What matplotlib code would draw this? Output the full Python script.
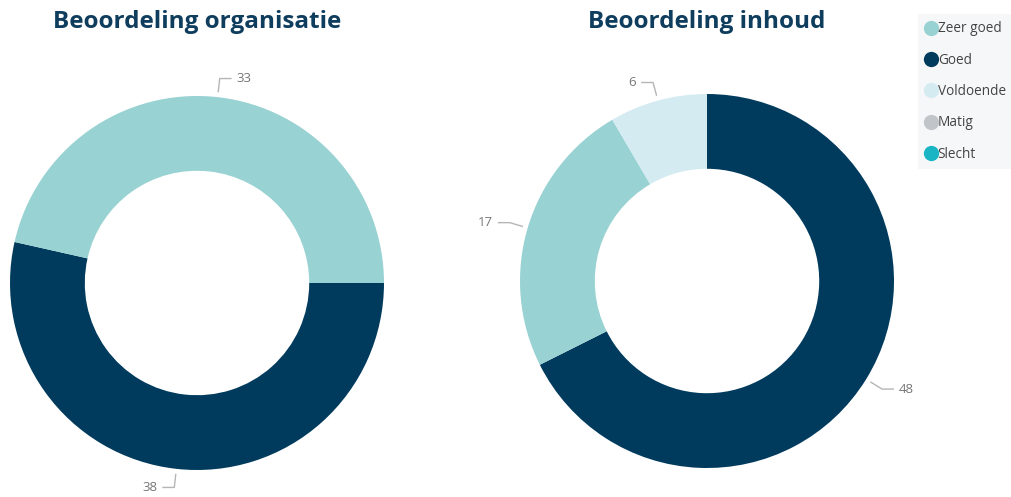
import numpy as np
import matplotlib
matplotlib.use('Agg')
import matplotlib.pyplot as plt
from matplotlib.lines import Line2D

plt.rcParams['font.family'] = ['Open Sans', 'DejaVu Sans']

categories = ['Zeer goed', 'Goed', 'Voldoende', 'Matig', 'Slecht']
colors = ['#99d2d3', '#003b5e', '#d4ebf2', '#c1c4c9', '#1ab5c4']

# left chart: organisation
org_labels = ['Goed', 'Zeer goed']
org_values = [38, 33]
# right chart: content
inh_labels = ['Goed', 'Zeer goed', 'Voldoende']
inh_values = [48, 17, 6]

W, H = 1011, 497
fig = plt.figure(figsize=(W / 100, H / 100), dpi=100)
title_color = '#0f3d5e'
label_color = '#777777'
line_color = '#b5b5b5'
R = 187


def donut(cx, cy, labels, values, start, title):
    ax = fig.add_axes([(cx - R) / W, (H - cy - R) / H, 2 * R / W, 2 * R / H])
    cols = [colors[categories.index(l)] for l in labels]
    wedges, _ = ax.pie(values, colors=cols, startangle=start, counterclock=False,
                       radius=1.0, wedgeprops=dict(width=0.4, edgecolor='none'))
    ax.set_xlim(-1, 1)
    ax.set_ylim(-1, 1)
    ax.set_aspect('equal')
    ax.axis('off')
    for w, v in zip(wedges, values):
        th = np.deg2rad((w.theta1 + w.theta2) / 2)
        c, s = np.cos(th), np.sin(th)
        x0, y0 = 1.03 * c, 1.03 * s
        x1, y1 = 1.1 * c, 1.1 * s
        d = 1 if c >= 0 else -1
        x2 = x1 + d * 0.06
        ax.plot([x0, x1, x2], [y0, y1, y1], color=line_color, lw=1, clip_on=False)
        ax.text(x2 + d * 0.03, y1, str(v), ha='left' if d > 0 else 'right', va='center',
                fontsize=9.5, color=label_color, clip_on=False)
    fig.text(cx / W, 1 - 22 / H, title, ha='center', va='center', fontsize=17.5,
             fontweight='bold', color=title_color)


donut(197, 283, org_labels, org_values, 0, 'Beoordeling organisatie')
donut(707, 281, inh_labels, inh_values, 90, 'Beoordeling inhoud')

handles = [Line2D([], [], marker='o', linestyle='none', markersize=11,
                  markerfacecolor=c, markeredgecolor='none') for c in colors]
leg = fig.legend(handles, categories, loc='upper left',
                 bbox_to_anchor=(918 / W, 1 - 14 / H), frameon=True,
                 fontsize=9.8, labelspacing=1.2, handlelength=0.8,
                 handletextpad=0.1, borderpad=0.55, borderaxespad=0,
                 labelcolor='#444444')
leg.get_frame().set_facecolor('#f4f5f7')
leg.get_frame().set_edgecolor('none')
leg.get_frame().set_boxstyle('square', pad=0)

fig.savefig('out.png', dpi=100, facecolor='white')
